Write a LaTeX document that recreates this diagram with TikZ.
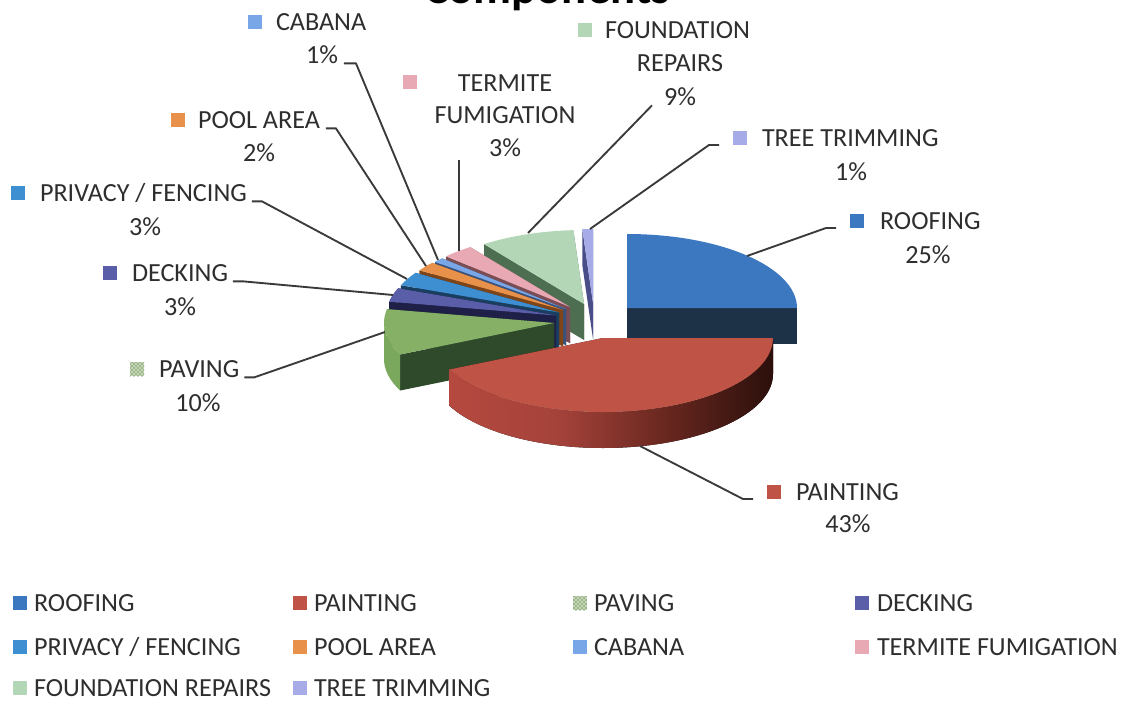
\documentclass[tikz,border=0pt]{standalone}
\usepackage{fontspec}
\setmainfont{Carlito}
\usetikzlibrary{calc,patterns}

\definecolor{roofT}{HTML}{3C78C0}
\definecolor{roofS}{HTML}{1D3247}
\definecolor{paintT}{HTML}{BF5346}
\definecolor{pr1}{HTML}{B5493F}
\definecolor{pr2}{HTML}{A4423A}
\definecolor{pr3}{HTML}{6A2820}
\definecolor{pr4}{HTML}{2B0F0B}
\definecolor{paveT}{HTML}{86B066}
\definecolor{paveS}{HTML}{2E4A2B}
\definecolor{paveR}{HTML}{7AA85C}
\definecolor{deckT}{HTML}{5A5EA8}
\definecolor{deckS}{HTML}{1E2048}
\definecolor{privT}{HTML}{3D8FD2}
\definecolor{privS}{HTML}{1A3E60}
\definecolor{poolT}{HTML}{E8914B}
\definecolor{poolS}{HTML}{7D4518}
\definecolor{cabT}{HTML}{79A6E6}
\definecolor{cabS}{HTML}{38527E}
\definecolor{termT}{HTML}{E9A9B4}
\definecolor{termS}{HTML}{7A4C54}
\definecolor{fndT}{HTML}{B3D7B6}
\definecolor{fndS}{HTML}{4D6E51}
\definecolor{treeT}{HTML}{A7ABE8}
\definecolor{treeS}{HTML}{4A4E88}
\definecolor{txt}{HTML}{2E2E2E}
\definecolor{ldr}{HTML}{3A3A3A}

\pgfdeclarehorizontalshading{rimshade}{100bp}{color(0bp)=(pr1); color(25bp)=(pr1); color(42bp)=(pr2); color(58bp)=(pr3); color(75bp)=(pr4); color(100bp)=(pr4)}

\newcommand\lblfont{\fontsize{19.6}{23}\selectfont}

% radial cut faces of a slice: cx, cy, a1, a2, style
\newcommand\pfaces[5]{%
  \pgfmathsetmacro\pA{-(#3)}\pgfmathsetmacro\pB{-(#4)}%
  \fill[#5] (#1,#2) -- ++(\pA:170 and 74) -- ++(0,36) -- (#1,{#2+36}) -- cycle;
  \fill[#5] (#1,#2) -- ++(\pB:170 and 74) -- ++(0,36) -- (#1,{#2+36}) -- cycle;}
% top face
\newcommand\ptop[5]{%
  \pgfmathsetmacro\pA{-(#3)}\pgfmathsetmacro\pB{-(#4)}%
  \fill[#5] (#1,#2) -- ++(\pA:170 and 74) arc[start angle=\pA,end angle=\pB,x radius=170,y radius=74] -- cycle;}
% outer rim
\newcommand\prim[5]{%
  \pgfmathsetmacro\pA{-(#3)}\pgfmathsetmacro\pB{-(#4)}%
  \fill[#5] (#1,#2) ++(\pA:170 and 74) arc[start angle=\pA,end angle=\pB,x radius=170,y radius=74] -- ++(0,36) arc[start angle=\pB,end angle=\pA,x radius=170,y radius=74] -- cycle;}

\begin{document}
\begin{tikzpicture}[x=0.75pt,y=-0.75pt,
  lbl/.style={font=\lblfont, text=txt, inner sep=0pt, outer sep=0pt, text height=12.5pt, text depth=0pt},
  sqr/.style={minimum size=10.5pt, inner sep=0pt, outer sep=0pt},
  leader/.style={draw=ldr, line width=1.4pt, line join=round}]
\useasboundingbox (0,0) rectangle (1123,702);
\clip (0,0) rectangle (1123,702);
\fill[white] (0,0) rectangle (1123,702);

% title (cut off at the top)
\node[font=\fontsize{35}{40}\selectfont\bfseries, text=black, inner sep=0pt, anchor=base] (title) at (547,4) {Components};

% ---- pie, back to front ----
\pfaces{593}{303}{90}{93.6}{fill=treeS}
\ptop{593}{303}{90}{93.6}{fill=treeT}
\pfaces{584}{304}{93.6}{126}{fill=fndS}
\ptop{584}{304}{93.6}{126}{fill=fndT}
\pfaces{570}{307}{126}{136.8}{fill=termS}
\ptop{570}{307}{126}{136.8}{fill=termT}
\pfaces{566}{309}{136.8}{140.4}{fill=cabS}
\ptop{566}{309}{136.8}{140.4}{fill=cabT}
\pfaces{563}{310}{140.4}{147.6}{fill=poolS}
\ptop{563}{310}{140.4}{147.6}{fill=poolT}
\pfaces{559}{312.5}{147.6}{158.4}{fill=privS}
\ptop{559}{312.5}{147.6}{158.4}{fill=privT}
\pfaces{556}{315.5}{158.4}{169.2}{fill=deckS}
\ptop{556}{315.5}{158.4}{169.2}{fill=deckT}
\pfaces{627}{308}{0}{90}{fill=roofS}
\ptop{627}{308}{0}{90}{fill=roofT}
\pfaces{554}{323}{169.2}{205.2}{fill=paveS}
\prim{554}{323}{180}{205.2}{fill=paveR}
\ptop{554}{323}{169.2}{205.2}{fill=paveT}
\pfaces{603}{338}{-154.8}{0}{fill=pr4}
\prim{603}{338}{-154.8}{0}{shading=rimshade}
\ptop{603}{338}{-154.8}{0}{fill=paintT}

% leader end points on the pie
\coordinate (cabE) at (438,260);
\coordinate (poolE) at (426,266);
\coordinate (privE) at (407,279);
\coordinate (deckE) at (393,295);
\coordinate (paveE) at (385,332);
\coordinate (termE) at (459,251);
\coordinate (fndE) at (528,233);
\coordinate (treeE) at (590,229);
\coordinate (roofE) at (747,256);
\coordinate (paintE) at (640,446);

% ---- data labels ----
\node[sqr, fill=cabT] (cabsq) at (255,22) {};
\node[lbl, anchor=west] (cabname) at (276,22) {CABANA};
\node[lbl] (cabpct) at (322,55) {1\%};

\node[sqr, fill=poolT] (poolsq) at (178,120) {};
\node[lbl, anchor=west] (poolname) at (198,120) {POOL AREA};
\node[lbl] (poolpct) at (259,153) {2\%};

\node[sqr, fill=privT] (privsq) at (18,193) {};
\node[lbl, anchor=west] (privname) at (40,193) {PRIVACY / FENCING};
\node[lbl] (privpct) at (145,227) {3\%};

\node[sqr, fill=deckT] (decksq) at (110,273) {};
\node[lbl, anchor=west] (deckname) at (132,273) {DECKING};
\node[lbl] (deckpct) at (180,307) {3\%};

\node[sqr, fill=paveT!50, postaction={pattern=crosshatch dots, pattern color=paveS}] (pavesq) at (137,369) {};
\node[lbl, anchor=west] (pavename) at (159,369) {PAVING};
\node[lbl] (pavepct) at (198,403) {10\%};

\node[sqr, fill=termT] (termsq) at (410,82) {};
\node[lbl] (termname) at (505,83) {TERMITE};
\node[lbl] (termname2) at (505,115) {FUMIGATION};
\node[lbl] (termpct) at (505,148) {3\%};

\node[sqr, fill=fndT] (fndsq) at (585,30) {};
\node[lbl, anchor=west] (fndname) at (605,30) {FOUNDATION};
\node[lbl] (fndname2) at (680,63) {REPAIRS};
\node[lbl] (fndpct) at (680,97) {9\%};

\node[sqr, fill=treeT] (treesq) at (740,138) {};
\node[lbl, anchor=west] (treename) at (762,138) {TREE TRIMMING};
\node[lbl] (treepct) at (851,172) {1\%};

\node[sqr, fill=roofT] (roofsq) at (857,221) {};
\node[lbl, anchor=west] (roofname) at (880,221) {ROOFING};
\node[lbl] (roofpct) at (928,255) {25\%};

\node[sqr, fill=paintT] (paintsq) at (774,492) {};
\node[lbl, anchor=west] (paintname) at (796,492) {PAINTING};
\node[lbl] (paintpct) at (848,524) {43\%};

% ---- leader lines ----
\draw[leader] ($(cabpct.south east)+(6,0)$) -- ++(12,0) -- (cabE);
\draw[leader] ($(poolname.south east)+(6,0)$) -- ++(10,0) -- (poolE);
\draw[leader] ($(privname.south east)+(5,0)$) -- ++(10,0) -- (privE);
\draw[leader] ($(deckname.south east)+(5,0)$) -- ++(10,0) -- (deckE);
\draw[leader] ($(pavename.south east)+(5,0)$) -- ++(10,0) -- (paveE);
\draw[leader] ($(termE |- termpct.south)+(0,4)$) -- (termE);
\draw[leader] ($(fndpct.south west)+(-12,0)$) -- (fndE);
\draw[leader] ($(treesq.south west)+(-14,0)$) -- ++(-10,0) -- (treeE);
\draw[leader] ($(roofsq.south west)+(-14,0)$) -- ++(-10,0) -- (roofE);
\draw[leader] ($(paintsq.south west)+(-14,0)$) -- ++(-10,0) -- (paintE);

% ---- legend ----
\node[sqr, fill=roofT] (lg1) at (20,603) {};
\node[lbl, anchor=west] (lt1) at (34,603) {ROOFING};
\node[sqr, fill=paintT] (lg2) at (300,603) {};
\node[lbl, anchor=west] (lt2) at (314,603) {PAINTING};
\node[sqr, fill=paveT!50, postaction={pattern=crosshatch dots, pattern color=paveS}] (lg3) at (580,603) {};
\node[lbl, anchor=west] (lt3) at (594,603) {PAVING};
\node[sqr, fill=deckT] (lg4) at (862,603) {};
\node[lbl, anchor=west] (lt4) at (877,603) {DECKING};

\node[sqr, fill=privT] (lg5) at (20,647) {};
\node[lbl, anchor=west] (lt5) at (34,647) {PRIVACY / FENCING};
\node[sqr, fill=poolT] (lg6) at (300,647) {};
\node[lbl, anchor=west] (lt6) at (314,647) {POOL AREA};
\node[sqr, fill=cabT] (lg7) at (580,647) {};
\node[lbl, anchor=west] (lt7) at (594,647) {CABANA};
\node[sqr, fill=termT] (lg8) at (862,647) {};
\node[lbl, anchor=west] (lt8) at (877,647) {TERMITE FUMIGATION};

\node[sqr, fill=fndT] (lg9) at (20,688) {};
\node[lbl, anchor=west] (lt9) at (34,688) {FOUNDATION REPAIRS};
\node[sqr, fill=treeT] (lg10) at (300,688) {};
\node[lbl, anchor=west] (lt10) at (314,688) {TREE TRIMMING};
\end{tikzpicture}
\end{document}
